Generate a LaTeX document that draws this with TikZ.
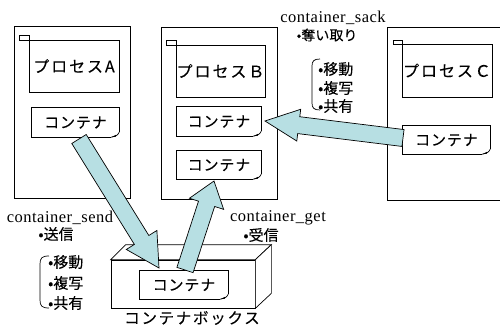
\documentclass[tikz,border=0pt]{standalone}
\usepackage{fontspec}
\setmainfont{Liberation Serif}
\newfontfamily\jp{Noto Sans CJK JP}[FakeBold=0.15]
\usetikzlibrary{calc}
\definecolor{arrowblue}{RGB}{183,223,227}
\tikzset{
  ln/.style={draw=black, line width=0.7pt},
  pagebox/.style={draw=black, line width=0.7pt, inner sep=0pt, minimum width=116pt, minimum height=172pt},
  procbox/.style={draw=black, line width=0.7pt, inner sep=0pt, font=\jp\fontsize{16}{16}\selectfont\addfontfeature{LetterSpace=12}},
  contnode/.style={inner sep=0pt, font=\jp\fontsize{15}{15}\selectfont\addfontfeature{LetterSpace=6}},
  jptext/.style={inner sep=0pt, font=\jp\fontsize{15}{15}\selectfont},
  entext/.style={inner sep=0pt, font=\fontsize{16.5}{16.5}\selectfont\addfontfeature{LetterSpace=3}},
  arrowfill/.style={fill=arrowblue, draw=black, line width=0.7pt, line join=miter},
  boxface/.style={fill=white, draw=black, line width=0.7pt, line join=miter},
}
% container outline with folded bottom-right corner
\newcommand{\contshape}[1]{%
  \draw[ln] ([xshift=-8pt]#1.south east) -- (#1.south west) -- (#1.north west) -- (#1.north east) -- ([yshift=5pt]#1.south east);
  \draw[ln] ([yshift=5pt]#1.south east) .. controls ([xshift=-2pt,yshift=1.5pt]#1.south east) .. ([xshift=-8pt]#1.south east);
  \fill[black] ([xshift=-8pt]#1.south east) -- ([xshift=-3pt,yshift=2.5pt]#1.south east) -- ([xshift=-3.5pt,yshift=0.5pt]#1.south east) -- cycle;
}
% block arrow: tail, tip, shaft half width, head half width, head length
\newcommand{\blockarrow}[5]{%
  \path ($(#2)!#5!(#1)$) coordinate (hb);
  \draw[arrowfill] ($(#1)!#3!90:(#2)$) -- ($(hb)!#3!-90:(#1)$) -- ($(hb)!#4!-90:(#1)$) -- (#2)
    -- ($(hb)!#4!90:(#1)$) -- ($(hb)!#3!90:(#1)$) -- ($(#1)!#3!-90:(#2)$) -- cycle;
}
\begin{document}
\begin{tikzpicture}[x=1pt,y=-1pt]
\useasboundingbox (0,0) rectangle (500,329);
% pages
\node[pagebox] (pageA) at (72,112) {};
\node[pagebox] (pageB) at (219,113) {};
\draw[ln] (501,27) -- (387,27) -- (387,200) -- (501,200);
\coordinate (pageC) at (444,113);
% small squares and process boxes
\draw[ln] (19,35) rectangle (29,40);
\draw[ln] (166,40) rectangle (176,45);
\draw[ln] (393,40) rectangle (402,44);
\node[procbox, minimum width=90pt, minimum height=52pt] (procA) at (74,66) {プロセスA};
\node[procbox, minimum width=89pt, minimum height=52pt] (procB) at (220.5,71) {プロセスＢ};
\node[procbox, minimum width=90pt, minimum height=53pt] (procC) at (447,70.5) {プロセスＣ};
% containers
\node[contnode, minimum width=87pt, minimum height=29pt] (cA) at (75.5,122.5) {コンテナ};
\node[contnode, minimum width=84pt, minimum height=29pt] (cB1) at (219,121.5) {コンテナ};
\node[contnode, minimum width=84pt, minimum height=28pt] (cB2) at (219,165) {コンテナ};
\node[contnode, minimum width=87pt, minimum height=28pt] (cC) at (446.5,140) {コンテナ};
\contshape{cA}
\contshape{cB1}
\contshape{cB2}
\contshape{cC}
% container box (3D)
\node[boxface, minimum width=144pt, minimum height=48pt, inner sep=0pt] (front) at (183,284) {};
\draw[boxface] (front.north west) -- ([shift={(15pt,15pt)}]front.north west) -- ([shift={(16pt,15pt)}]front.north east) -- (front.north east) -- cycle;
\draw[boxface] (front.north east) -- ([shift={(16pt,15pt)}]front.north east) -- ([shift={(16pt,15pt)}]front.south east) -- (front.south east) -- cycle;
\node[contnode, minimum width=88pt, minimum height=28pt] (cX) at (184,285) {コンテナ};
\contshape{cX}
\node[jptext, font=\jp\fontsize{15.5}{15.5}\selectfont\addfontfeature{LetterSpace=11}] (boxlbl) at (192,318) {コンテナボックス};
% arrows
\coordinate (t1) at (79,139);   \coordinate (h1) at (159,268);
\coordinate (t2) at (185,270);  \coordinate (h2) at (214,181);
\coordinate (t3) at (403,138);  \coordinate (h3) at (265,121);
\blockarrow{t1}{h1}{8.5pt}{18pt}{33pt}
\blockarrow{t2}{h2}{8.5pt}{18pt}{24pt}
\blockarrow{t3}{h3}{8.5pt}{16pt}{34pt}
% labels: send
\node[entext] (sendlbl) at (60,218) {container\_send};
\node[jptext] (sendjp) at (56,234) {•送信};
\draw[ln] (49,256) .. controls (42,256) and (40,258) .. (40,264) -- (40,300) .. controls (40,306) and (42,308) .. (49,308);
\node[jptext, anchor=west] (s1) at (48,262) {•移動};
\node[jptext, anchor=west] (s2) at (48,283) {•複写};
\node[jptext, anchor=west] (s3) at (48,303) {•共有};
% labels: get
\node[entext] (getlbl) at (278,218) {container\_get};
\node[jptext] (getjp) at (261,235) {•受信};
% labels: sack
\node[entext] (sacklbl) at (333,18) {container\_sack};
\node[jptext, font=\jp\fontsize{14}{14}\selectfont] (sackjp) at (327,35) {•奪い取り};
\draw[ln] (320,59) .. controls (314,59) and (312,61) .. (312,66) -- (312,103) .. controls (312,108) and (314,110) .. (320,110);
\node[jptext, anchor=west] (k1) at (318,69) {•移動};
\node[jptext, anchor=west] (k2) at (318,88) {•複写};
\node[jptext, anchor=west] (k3) at (318,106) {•共有};
\end{tikzpicture}
\end{document}
